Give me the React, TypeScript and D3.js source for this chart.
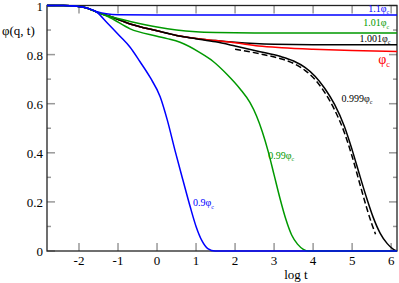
import React from 'react'
import * as d3 from 'd3'

type Pt = [number, number]

const COMMON: Pt[] = [
  [-2.82, 1], [-2.4, 1], [-2.05, 0.997], [-1.8, 0.99], [-1.54, 0.973],
]

const PHI_110: Pt[] = [
  ...COMMON.slice(0, 4), [-1.54, 0.975], [-1.3, 0.966], [-1.0, 0.962], [0, 0.961], [6.15, 0.961],
]
const PHI_101: Pt[] = [
  ...COMMON, [-1.2, 0.955], [-0.69, 0.935], [0, 0.912], [0.5, 0.9], [1, 0.893], [1.5, 0.89], [2.5, 0.888], [6.15, 0.888],
]
const PHI_1001: Pt[] = [
  ...COMMON, [-1.2, 0.955], [-0.69, 0.925], [0, 0.897], [0.5, 0.878], [1, 0.866], [1.5, 0.857], [2, 0.85], [2.5, 0.845], [3, 0.842], [4, 0.84], [6.15, 0.84],
]
const PHI_C: Pt[] = [
  ...COMMON, [-1.2, 0.955], [-0.69, 0.925], [0, 0.897], [0.5, 0.878], [1, 0.866], [1.5, 0.857], [2, 0.848], [2.6, 0.835], [3.2, 0.828], [4, 0.822], [5, 0.817], [6.15, 0.813],
]
const PHI_0999: Pt[] = [
  ...COMMON, [-1.2, 0.955], [-0.69, 0.925], [0, 0.897], [0.5, 0.878], [1, 0.865], [1.5, 0.852], [2, 0.835], [2.64, 0.812], [3.15, 0.793], [3.5, 0.774], [3.8, 0.747], [4.05, 0.712], [4.3, 0.662], [4.55, 0.597], [4.8, 0.508], [5.0, 0.412], [5.2, 0.305], [5.38, 0.212], [5.54, 0.137], [5.72, 0.072], [5.9, 0.03], [6.05, 0.008], [6.15, 0],
]
const FIT_0999: Pt[] = [
  [2.0, 0.822], [2.64, 0.803], [3.15, 0.784], [3.5, 0.764], [3.8, 0.735], [4.05, 0.698], [4.3, 0.645], [4.55, 0.575], [4.8, 0.483], [5.0, 0.385], [5.2, 0.272], [5.38, 0.172], [5.5, 0.112], [5.6, 0.068],
]
const PHI_099: Pt[] = [
  ...COMMON, [-1.2, 0.95], [-0.69, 0.905], [0, 0.875], [0.26, 0.865], [0.59, 0.85], [1.1, 0.808], [1.44, 0.772], [1.79, 0.72], [2.13, 0.66], [2.38, 0.605], [2.55, 0.55], [2.7, 0.485], [2.85, 0.405], [3.0, 0.31], [3.15, 0.215], [3.3, 0.13], [3.45, 0.065], [3.6, 0.028], [3.75, 0.007], [3.88, 0], [6.15, 0],
]
const PHI_09: Pt[] = [
  ...COMMON.slice(0, 4), [-1.54, 0.972], [-1.28, 0.93], [-0.95, 0.875], [-0.69, 0.83], [-0.44, 0.772], [-0.18, 0.708], [0.08, 0.628], [0.26, 0.535], [0.46, 0.41], [0.67, 0.285], [0.85, 0.18], [1.0, 0.1], [1.15, 0.042], [1.3, 0.01], [1.49, 0], [6.15, 0],
]

const X_TICKS = [-2, -1, 0, 1, 2, 3, 4, 5, 6]
const Y_TICKS = [0, 0.2, 0.4, 0.6, 0.8, 1]
const Y_MINOR = [0.1, 0.3, 0.5, 0.7, 0.9]

const BLUE = '#0000ff'
const GREEN = '#009900'
const RED = '#ff0000'
const BLACK = '#000000'

const CURVES = [
  { data: PHI_1001, color: BLACK },
  { data: PHI_C, color: RED },
  { data: PHI_0999, color: BLACK },
  { data: PHI_101, color: GREEN },
  { data: PHI_099, color: GREEN },
  { data: PHI_110, color: BLUE },
  { data: PHI_09, color: BLUE },
]

// anchor 'end' labels sit against the right frame
const LABELS = [
  { pre: '1.1', color: BLUE, t: 5.95, v: 0.975, size: 10, anchor: 'end' },
  { pre: '1.01', color: GREEN, t: 5.95, v: 0.915, size: 10, anchor: 'end' },
  { pre: '1.001', color: BLACK, t: 5.98, v: 0.853, size: 10, anchor: 'end' },
  { pre: '', color: RED, t: 5.67, v: 0.762, size: 14, anchor: 'start' },
  { pre: '0.999', color: BLACK, t: 4.73, v: 0.607, size: 10, anchor: 'start' },
  { pre: '0.99', color: GREEN, t: 2.85, v: 0.375, size: 10, anchor: 'start' },
  { pre: '0.9', color: BLUE, t: 0.92, v: 0.183, size: 10, anchor: 'start' },
]

const FONT = '"Times New Roman", "DejaVu Serif", serif'

export default function App() {
  const width = 399
  const height = 283
  const x = d3.scaleLinear().domain([-2.82, 6.15]).range([47, 397])
  const y = d3.scaleLinear().domain([0, 1]).range([251, 5.5])
  const line = d3
    .line<Pt>()
    .x((d) => x(d[0]))
    .y((d) => y(d[1]))
    .curve(d3.curveMonotoneX)

  const [x0, x1] = x.range()
  const [y0, y1] = y.range()
  const tickColor = '#999'

  return (
    <svg width={width} height={height} style={{ position: 'absolute', left: 0, top: 0 }}>
      <rect width={width} height={height} fill="#fff" />

      {/* ticks, inward on all four sides */}
      <g stroke={tickColor} strokeWidth={1.5}>
        {X_TICKS.map((t) => (
          <g key={'xt' + t}>
            <line x1={x(t)} x2={x(t)} y1={y0} y2={y0 - 8} />
            <line x1={x(t)} x2={x(t)} y1={y1} y2={y1 + 8} />
          </g>
        ))}
        {Y_TICKS.map((v) => (
          <g key={'yt' + v}>
            <line x1={x0} x2={x0 + 8} y1={y(v)} y2={y(v)} />
            <line x1={x1} x2={x1 - 8} y1={y(v)} y2={y(v)} />
          </g>
        ))}
        {Y_MINOR.map((v) => (
          <g key={'ym' + v}>
            <line x1={x0} x2={x0 + 4} y1={y(v)} y2={y(v)} />
            <line x1={x1} x2={x1 - 4} y1={y(v)} y2={y(v)} />
          </g>
        ))}
      </g>

      {/* frame */}
      <rect x={x0} y={y1} width={x1 - x0} height={y0 - y1} fill="none" stroke="#222" strokeWidth={1.3} />

      {/* curves */}
      <g fill="none" strokeWidth={1.5}>
        {CURVES.map((c, i) => (
          <path key={i} d={line(c.data) ?? ''} stroke={c.color} />
        ))}
        <path d={line(FIT_0999) ?? ''} stroke={BLACK} strokeDasharray="6,3" />
      </g>

      <g style={{ fontFamily: FONT }}>
        {/* tick labels */}
        <g fontSize={13} fill="#000">
          {X_TICKS.map((t) => (
            <text key={'xl' + t} x={x(t)} y={265} textAnchor="middle">
              {t}
            </text>
          ))}
          {Y_TICKS.map((v) => (
            <text key={'yl' + v} x={43} y={y(v) + 5} textAnchor="end">
              {v}
            </text>
          ))}
        </g>

        {/* axis titles */}
        <text x={2} y={35} fontSize={13}>
          φ(q, t)
        </text>
        <text x={296} y={279} fontSize={13} textAnchor="middle">
          log t
        </text>

        {/* curve labels */}
        {LABELS.map((l, i) => (
          <text key={'cl' + i} x={x(l.t)} y={y(l.v)} fontSize={l.size} fill={l.color} textAnchor={l.anchor}>
            {l.pre}φ
            <tspan fontSize={l.size * 0.6} dy={l.size * 0.25}>
              c
            </tspan>
          </text>
        ))}
      </g>
    </svg>
  )
}
